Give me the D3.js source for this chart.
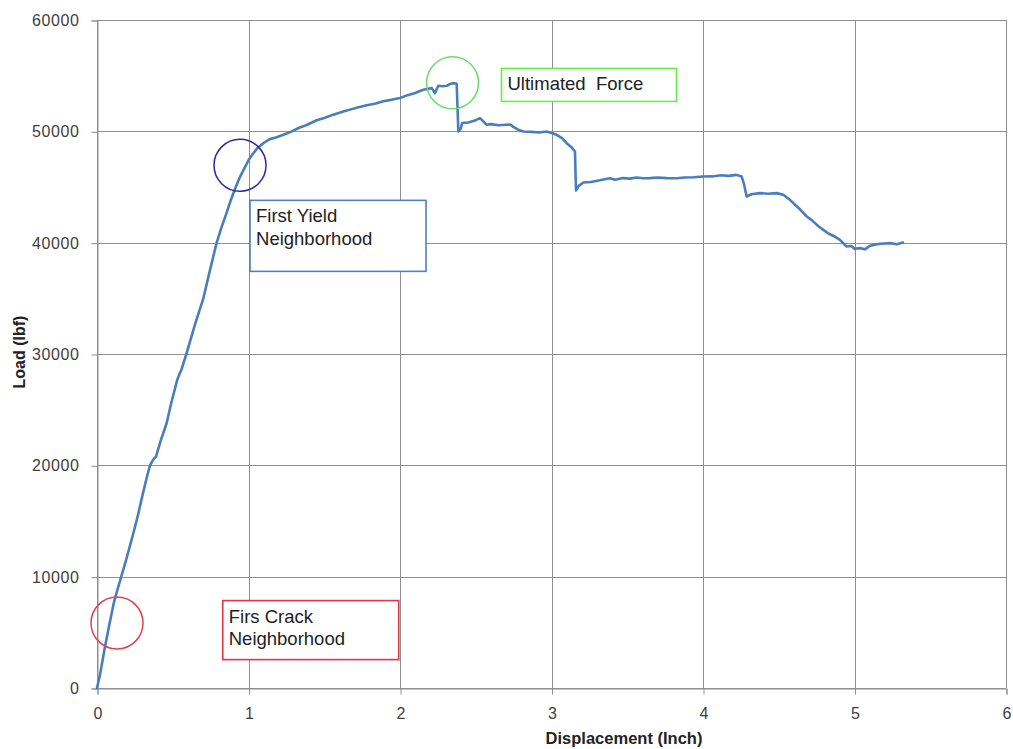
<!DOCTYPE html>
<html>
<head>
<meta charset="utf-8">
<script src="https://cdn.jsdelivr.net/npm/d3@7"></script>
<style>
  html, body { margin: 0; padding: 0; background: #fff; }
  svg { display: block; }
</style>
</head>
<body>
<svg id="chart" width="1013" height="749"></svg>
<script>
// ---- data ----
const displacement = [
  0, 0.02, 0.05, 0.08, 0.11, 0.13, 0.16, 0.19, 0.22, 0.24, 0.27, 0.30, 0.33, 0.35, 0.37, 0.39,
  0.42, 0.46, 0.49, 0.53, 0.56, 0.59, 0.62, 0.65, 0.70, 0.74, 0.77, 0.79, 0.82, 0.856, 0.88,
  0.91, 0.94, 0.97, 1.0, 1.03, 1.06, 1.10, 1.14,
  1.18, 1.23, 1.28, 1.33, 1.38, 1.45, 1.50, 1.56, 1.62, 1.67, 1.72, 1.78, 1.84, 1.89, 1.95,
  2.0, 2.05, 2.10, 2.154, 2.21, 2.23, 2.253, 2.28, 2.308, 2.33, 2.352, 2.374,
  2.38, 2.385, 2.40, 2.41, 2.45, 2.50, 2.528, 2.55, 2.57, 2.60, 2.65, 2.70, 2.73, 2.748,
  2.78, 2.814, 2.87, 2.92, 2.968, 3.0, 3.034, 3.07, 3.10, 3.13, 3.155, 3.158, 3.162,
  3.18, 3.21, 3.26, 3.32, 3.386, 3.42, 3.47, 3.52, 3.56, 3.606, 3.65, 3.70, 3.76, 3.826,
  3.88, 3.94, 4.0, 4.06, 4.12, 4.17, 4.22, 4.255, 4.27, 4.288, 4.32, 4.376, 4.43, 4.486,
  4.53, 4.574, 4.60, 4.64, 4.685, 4.72, 4.76, 4.794, 4.83, 4.87, 4.904, 4.93, 4.948, 4.98,
  5.0, 5.036, 5.07, 5.10, 5.124, 5.17, 5.234, 5.28, 5.32
];
const load = [
  0, 1200, 3500, 5600, 7600, 8600, 10000, 11400, 12900, 13900, 15500, 17300, 19000, 20000, 20500, 20800,
  22200, 23800, 25600, 27700, 28700, 30000, 31400, 32800, 34900, 37200, 38900, 40000, 41300, 42700, 43700,
  44800, 45800, 46600, 47400, 48000, 48500, 48950, 49300,
  49450, 49700, 49950, 50300, 50550, 51000, 51200, 51500, 51750, 51950, 52150, 52350, 52500, 52700, 52850,
  53000, 53250, 53450, 53730, 53880, 53430, 54090, 54050, 54090, 54250, 54330, 54270,
  52000, 50000, 50200, 50750, 50800, 51000, 51190, 50900, 50590, 50650, 50550, 50590, 50600, 50400,
  50150, 49990, 49950, 49900, 49990, 49850, 49690, 49400, 48940, 48600, 48190, 46500, 44700,
  45100, 45400, 45450, 45600, 45790, 45650, 45800, 45750, 45850, 45780, 45800, 45850, 45800, 45790,
  45850, 45880, 45940, 45950, 46050, 46000, 46090, 45940, 45300, 44150, 44350, 44450, 44400, 44450,
  44300, 43850, 43500, 43000, 42350, 42000, 41500, 41150, 40800, 40550, 40250, 39900, 39650, 39700,
  39450, 39510, 39400, 39700, 39800, 39900, 39960, 39850, 40010
];
const xTicks = [0, 1, 2, 3, 4, 5, 6];
const yTicks = [0, 10000, 20000, 30000, 40000, 50000, 60000];

// annotations: circle centres (data units) and labels
const circleNames = ["crack", "yield", "ultimate"];
const circleX = [0.132, 0.944, 2.347];
const circleY = [5840, 46950, 54360];
const circleColors = ["#e04050", "#2a2aa8", "#66dd66"];
const boxLines = [["Firs Crack", "Neighborhood"], ["First Yield", "Neighborhood"], ["Ultimated  Force"]];
const boxX = [0.83, 1.01, 2.67];      // left edge (data units)
const boxYTop = [7850, 43800, 55650]; // top edge (data units)
const boxColors = ["#e03848", "#4f81bd", "#66ee44"];

// ---- layout ----
const svg = d3.select("#chart");
const m = { left: 97, top: 20, right: 7, bottom: 61 };
const W = 1013 - m.left - m.right;
const H = 749 - m.top - m.bottom;
const x = d3.scaleLinear().domain([0, 6]).range([0, W]);
const y = d3.scaleLinear().domain([0, 60000]).range([H, 0]);
const g = svg.append("g").attr("transform", `translate(${m.left},${m.top})`);

const gridColor = "#8f8f8f";
// gridlines
g.append("g").selectAll("line").data(yTicks).join("line")
  .attr("x1", 0).attr("x2", W).attr("y1", d => Math.round(y(d)) + 0.5).attr("y2", d => Math.round(y(d)) + 0.5)
  .attr("stroke", gridColor).attr("stroke-width", 1);
g.append("g").selectAll("line").data(xTicks).join("line")
  .attr("y1", 0).attr("y2", H).attr("x1", d => Math.round(x(d)) + 0.5).attr("x2", d => Math.round(x(d)) + 0.5)
  .attr("stroke", gridColor).attr("stroke-width", 1);

// axes
const fontTick = "'Liberation Sans', Arial, sans-serif";
const xAxis = g.append("g").attr("transform", `translate(0.5,${Math.round(H) + 0.5})`)
  .call(d3.axisBottom(x).tickValues(xTicks).tickSize(6).tickPadding(13).tickFormat(d3.format("d")));
const yAxis = g.append("g").attr("transform", `translate(0.5,0.5)`)
  .call(d3.axisLeft(y).tickValues(yTicks).tickSize(6).tickPadding(12).tickFormat(d => String(d)));
[xAxis, yAxis].forEach(a => {
  a.select(".domain").attr("stroke", gridColor);
  a.selectAll(".tick line").attr("stroke", gridColor);
  a.selectAll(".tick text").attr("fill", "#404040").style("font-family", fontTick).style("font-size", "16px");
});
yAxis.selectAll(".tick text").attr("letter-spacing", "0.6px");

// axis titles
svg.append("text").attr("x", 624).attr("y", 744)
  .attr("text-anchor", "middle").style("font-family", fontTick).style("font-weight", "bold")
  .style("font-size", "16.5px").attr("fill", "#222").text("Displacement (Inch)");
svg.append("text").attr("transform", `translate(25,${m.top + H / 2 - 2}) rotate(-90)`)
  .attr("text-anchor", "middle").style("font-family", fontTick).style("font-weight", "bold")
  .style("font-size", "16px").attr("fill", "#222").text("Load (lbf)");

// data line
const pts = displacement.map((d, i) => [d, load[i]]);
g.append("path").datum(pts)
  .attr("fill", "none").attr("stroke", "#4a7ebb").attr("stroke-width", 2.6)
  .attr("stroke-linejoin", "round").attr("stroke-linecap", "round")
  .attr("d", d3.line().x(d => x(d[0])).y(d => y(d[1])));

// circles
const rPx = 26;
g.selectAll("circle.mark").data(circleNames).join("circle")
  .attr("class", "mark")
  .attr("cx", (d, i) => x(circleX[i])).attr("cy", (d, i) => y(circleY[i])).attr("r", rPx)
  .attr("fill", "none").attr("stroke", (d, i) => circleColors[i]).attr("stroke-width", 1.5);

// boxes
const boxW = [176, 176, 175];
const boxH = [59, 71, 33];
boxLines.forEach((lines, i) => {
  const bx = x(boxX[i]), by = y(boxYTop[i]);
  const bg = g.append("g").attr("transform", `translate(${bx},${by})`);
  bg.append("rect").attr("x", 0).attr("y", 0).attr("width", boxW[i]).attr("height", boxH[i])
    .attr("fill", "#fff").attr("stroke", boxColors[i]).attr("stroke-width", 1.6);
  lines.forEach((t, j) => {
    bg.append("text").attr("x", 6).attr("y", 22 + j * 22.5)
      .style("font-family", fontTick).style("font-size", "18.5px").attr("fill", "#222")
      .style("white-space", "pre").attr("xml:space", "preserve").text(t);
  });
});
</script>
</body>
</html>
